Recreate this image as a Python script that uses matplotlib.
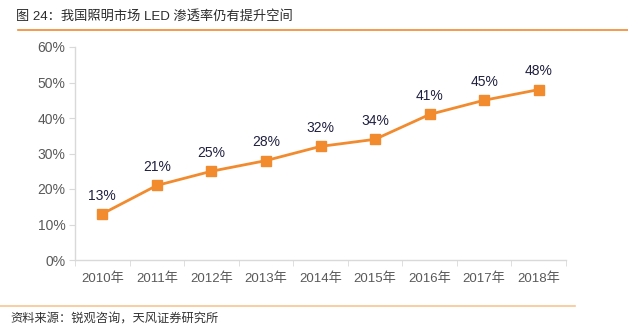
import matplotlib
matplotlib.use("Agg")
import matplotlib.pyplot as plt
from matplotlib.lines import Line2D

plt.rcParams['font.family'] = ['Liberation Sans', 'Noto Sans CJK SC', 'DejaVu Sans']

# data
years = ["2010年", "2011年", "2012年", "2013年", "2014年", "2015年", "2016年", "2017年", "2018年"]
penetration = [13, 21, 25, 28, 32, 34, 41, 45, 48]
y_ticks = [0, 10, 20, 30, 40, 50, 60]

ORANGE = "#F28A2E"
GREY = "#595959"

fig = plt.figure(figsize=(6.28, 3.35), dpi=100)
ax = fig.add_axes([75 / 628, 1 - 260 / 335, (566 - 75) / 628, (260 - 47) / 335])

x = list(range(len(years)))
ax.plot(x, penetration, color=ORANGE, lw=2, marker="s", ms=7.5, mfc=ORANGE, mec=ORANGE)
for xi, v in zip(x, penetration):
    ax.annotate(f"{v}%", (xi, v), xytext=(0, 8), textcoords="offset points",
                ha="center", va="bottom", fontsize=10, color="#1F2040")

ax.set_xlim(-0.5, len(years) - 0.5)
ax.set_ylim(0, 60)
ax.set_yticks(y_ticks)
ax.set_yticklabels([f"{t}%" for t in y_ticks], fontsize=10, color=GREY)
ax.set_xticks(x)
ax.set_xticklabels(years, fontsize=9.5, color=GREY)
ax.set_xticks([i - 0.5 for i in range(len(years) + 1)], minor=True)
ax.tick_params(axis="x", which="major", length=0, pad=9)
ax.tick_params(axis="x", which="minor", length=4, color="#D9D9D9")
ax.tick_params(axis="y", length=4, color="#D9D9D9", pad=3)

for s in ["top", "right"]:
    ax.spines[s].set_visible(False)
for s in ["left", "bottom"]:
    ax.spines[s].set_color("#D9D9D9")
    ax.spines[s].set_linewidth(1)

# title and source with orange rules
fig.text(16 / 628, 1 - 16 / 335, "图 24：我国照明市场 LED 渗透率仍有提升空间", fontsize=9.5,
         color="#2B2B2B", va="center", ha="left", fontweight="medium")
fig.add_artist(Line2D([18 / 628, 1.0], [1 - 30 / 335] * 2, color=ORANGE, lw=1.2))
fig.add_artist(Line2D([0, 575 / 628], [1 - 306 / 335] * 2, color="#F8C590", lw=1.2))
fig.text(10 / 628, 1 - 320 / 335, "资料来源：锐观咨询，天风证券研究所", fontsize=8.8,
         color="#333333", va="center", ha="left")

fig.savefig("out.png", dpi=100)
